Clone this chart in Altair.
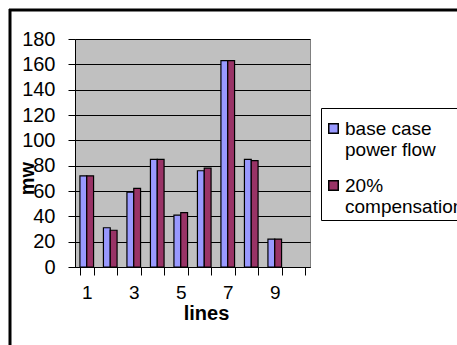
import altair as alt
import pandas as pd

lines = [str(i) for i in range(1, 11)]
base_case = [72, 31, 59, 85, 41, 76, 163, 85, 22]
compensated = [72, 29, 62, 85, 43, 78, 163, 84, 22]
series_names = ["base case power flow", "20% compensation"]
series_colors = ["#9999FF", "#993366"]

rows = []
for i, v in enumerate(base_case):
    rows.append({"line": lines[i], "series": series_names[0], "mw": v})
for i, v in enumerate(compensated):
    rows.append({"line": lines[i], "series": series_names[1], "mw": v})
df = pd.DataFrame(rows)

FONT = "Liberation Sans"

bars = alt.Chart(df).mark_bar(stroke="black", strokeWidth=1.2).encode(
    x=alt.X(
        "line:O",
        scale=alt.Scale(domain=lines, paddingInner=0.42, paddingOuter=0.21),
        axis=alt.Axis(
            title="lines",
            titleFontWeight="bold",
            titleFontSize=20,
            titleFont=FONT,
            titleX=131,
            titleY=36,
            titleBaseline="top",
            labelAngle=0,
            labelFontSize=19,
            labelFont=FONT,
            labelColor="black",
            labelPadding=8,
            labelExpr="toNumber(datum.value) % 2 == 1 ? datum.label : ''",
            tickBand="extent",
            tickSize=8,
            tickColor="black",
            domainColor="black",
            grid=False,
        ),
    ),
    xOffset=alt.XOffset("series:N", sort=series_names,
                        scale=alt.Scale(domain=series_names, paddingInner=0, paddingOuter=0)),
    y=alt.Y(
        "mw:Q",
        scale=alt.Scale(domain=[0, 180], nice=False),
        axis=alt.Axis(
            title="mw",
            titleFontWeight="bold",
            titleFontSize=20,
            titleFont=FONT,
            titleX=-48,
            titleY=139,
            titleAngle=270,
            titleAlign="center",
            titleBaseline="middle",
            values=list(range(0, 181, 20)),
            labelFontSize=20,
            labelFont=FONT,
            labelColor="black",
            labelPadding=13,
            tickSize=7,
            tickColor="black",
            domainColor="black",
            grid=True,
            gridColor="black",
            gridWidth=1,
            gridOpacity=1,
        ),
    ),
    color=alt.Color(
        "series:N",
        scale=alt.Scale(domain=series_names, range=series_colors),
        legend=alt.Legend(
            title=" ",
            titleFontSize=5,
            titlePadding=3,
            orient="none",
            legendX=246,
            legendY=69,
            symbolType="square",
            symbolSize=90,
            symbolStrokeColor="black",
            symbolStrokeWidth=1.5,
            symbolOpacity=1,
            labelFontSize=19,
            labelFont=FONT,
            labelColor="black",
            labelLimit=600,
            labelOffset=2,
            labelBaseline="middle",
            labelExpr="datum.label == 'base case power flow' ? ['base case', 'power flow'] : ['20%', 'compensation']",
            rowPadding=16,
            padding=3,
            strokeColor="black",
            fillColor="white",
        ),
    ),
)

frame_top = alt.Chart(pd.DataFrame({"a": [0]})).mark_rule(color="black", strokeWidth=3).encode(
    x=alt.value(-66), x2=alt.value(390), y=alt.value(-29)
)
frame_left = alt.Chart(pd.DataFrame({"a": [0]})).mark_rule(color="black", strokeWidth=3).encode(
    x=alt.value(-65), y=alt.value(-30), y2=alt.value(320)
)

chart = alt.layer(bars, frame_top, frame_left).properties(
    width=235,
    height=228,
    autosize=alt.AutoSizeParams(type="none"),
    padding={"left": 75, "top": 39, "right": 147, "bottom": 78},
    background="white",
).configure_view(
    fill="#C0C0C0",
    stroke="#808080",
    strokeWidth=1,
)

chart.save("out.html", embed_options={"renderer": "svg", "actions": False})
